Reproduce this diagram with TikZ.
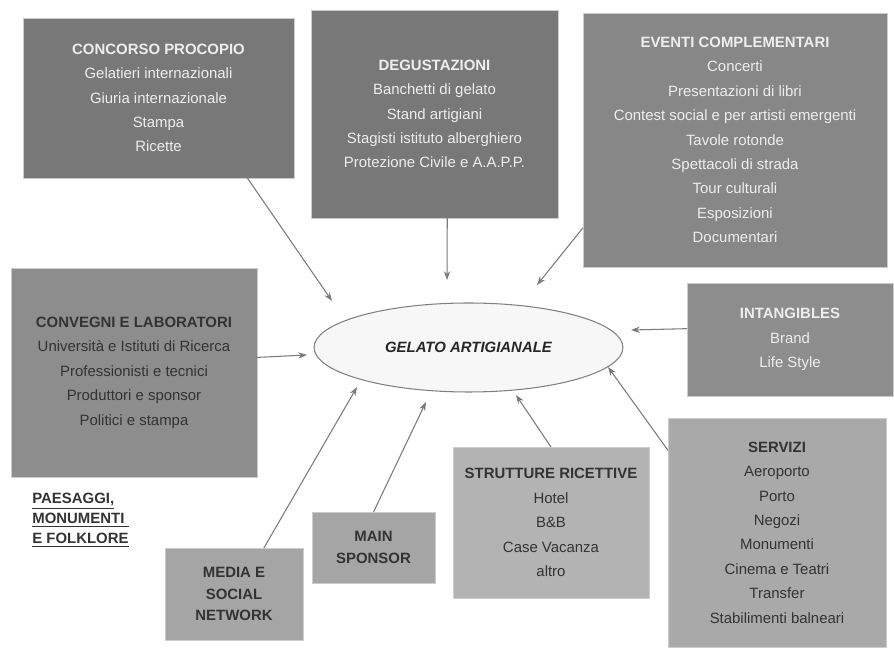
\documentclass[tikz,border=0pt]{standalone}
\usepackage{fontspec}
\setmainfont{Liberation Sans}
\usepackage{tikz}
\usetikzlibrary{arrows.meta,shapes.geometric,positioning}
\usepackage{xcolor}
\definecolor{boxA}{HTML}{787878}
\definecolor{boxB}{HTML}{878787}
\definecolor{boxC}{HTML}{8D8D8D}
\definecolor{boxD}{HTML}{A9A9A9}
\definecolor{boxE}{HTML}{B3B3B3}
\definecolor{boxF}{HTML}{A5A5A5}
\definecolor{txtlight}{HTML}{EEEEEE}
\definecolor{txtdark}{HTML}{333333}
\definecolor{arrgray}{HTML}{7A7A7A}

\begin{document}
\begin{tikzpicture}[x=0.02cm, y=-0.02cm,
    area/.style={rectangle, draw=black!20, line width=0.4pt, inner sep=0pt, outer sep=0pt,
        align=center, font=\fontsize{8.5}{13.9}\selectfont},
    dark/.style={area, text=txtlight},
    pale/.style={area, text=txtdark},
    short/.style={area, text=txtdark, font=\fontsize{8.5}{12.2}\selectfont\bfseries},
    core/.style={ellipse, draw=black!50, fill=black!3, line width=0.6pt, inner sep=0pt,
        minimum width=6.18cm, minimum height=1.78cm,
        font=\fontsize{8.5}{10}\selectfont\bfseries\itshape, text=black!85},
    arr/.style={draw=arrgray, line width=0.6pt, -{Stealth[length=5pt,width=3.6pt]}}]
    \useasboundingbox (0,0) rectangle (894,651);

    % centro
    \node[core] (gelato) at (468.5,347.5) {GELATO ARTIGIANALE};

    % riquadri in alto
    \node[dark, fill=boxA, minimum width=5.42cm, minimum height=3.2cm] (concorso) at (158.5,98)
        {\textbf{CONCORSO PROCOPIO}\\Gelatieri internazionali\\Giuria internazionale\\Stampa\\Ricette};
    \node[dark, fill=boxA, minimum width=4.94cm, minimum height=4.16cm] (degust) at (434.5,114)
        {\textbf{DEGUSTAZIONI}\\Banchetti di gelato\\Stand artigiani\\Stagisti istituto alberghiero\\Protezione Civile e A.A.P.P.};
    \node[dark, fill=boxB, minimum width=6.08cm, minimum height=5.08cm] (eventi) at (735,140)
        {\textbf{EVENTI COMPLEMENTARI}\\Concerti\\Presentazioni di libri\\Contest social e per artisti emergenti\\Tavole rotonde\\Spettacoli di strada\\Tour culturali\\Esposizioni\\Documentari};

    % riquadri ai lati
    \node[pale, fill=boxC, minimum width=4.92cm, minimum height=4.18cm] (convegni) at (134,372.5)
        {\textbf{CONVEGNI E LABORATORI}\\Università e Istituti di Ricerca\\Professionisti e tecnici\\Produttori e sponsor\\Politici e stampa};
    \node[dark, fill=boxC, minimum width=4.12cm, minimum height=2.26cm] (intang) at (790,339.5)
        {\textbf{INTANGIBLES}\\Brand\\Life Style};

    % riquadri in basso
    \node[pale, fill=boxD, minimum width=4.36cm, minimum height=4.58cm] (servizi) at (777,532.5)
        {\textbf{SERVIZI}\\Aeroporto\\Porto\\Negozi\\Monumenti\\Cinema e Teatri\\Transfer\\Stabilimenti balneari};
    \node[pale, fill=boxE, minimum width=3.92cm, minimum height=3.02cm] (strutt) at (551,522.5)
        {\textbf{STRUTTURE RICETTIVE}\\Hotel\\B\&B\\Case Vacanza\\altro};
    \node[short, fill=boxF, minimum width=2.46cm, minimum height=1.42cm] (sponsor) at (373.5,547.5)
        {MAIN\\SPONSOR};
    \node[short, fill=boxF, minimum width=2.76cm, minimum height=1.84cm] (media) at (234,594)
        {MEDIA E\\SOCIAL\\NETWORK};

    \node[anchor=north west, align=left, inner sep=0pt, text=txtdark,
        font=\fontsize{8.5}{11.3}\selectfont\bfseries] (paesaggi) at (32,493)
        {\underline{PAESAGGI,}\\\underline{MONUMENTI\ }\\\underline{E FOLKLORE}};

    % punte delle frecce
    \coordinate (t1) at (332,301);
    \coordinate (t2) at (447,280);
    \coordinate (t3) at (537,285);
    \coordinate (t4) at (307,355);
    \coordinate (t5) at (631,330);
    \coordinate (t6) at (608,367);
    \coordinate (t7) at (516,395);
    \coordinate (t8) at (426,402);
    \coordinate (t9) at (357,387);

    \draw[arr] (concorso.-42) -- (t1);
    \draw[arr] (degust.-83) -- (t2);
    \draw[arr] (eventi.210.6) -- (t3);
    \draw[arr] (convegni.7.9) -- (t4);
    \draw[arr] (intang.174.7) -- (t5);
    \draw[arr] (servizi.143.9) -- (t6);
    \draw[arr] (strutt.north) -- (t7);
    \draw[arr] (sponsor.north) -- (t8);
    \draw[arr] (media.57.8) -- (t9);
\end{tikzpicture}
\end{document}
